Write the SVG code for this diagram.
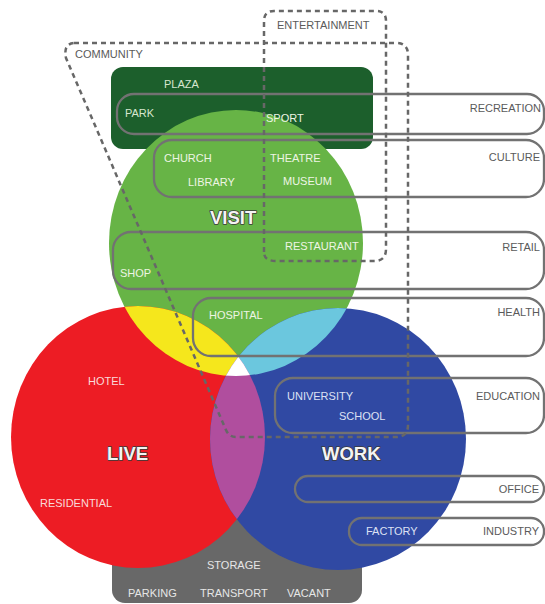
<svg xmlns="http://www.w3.org/2000/svg" width="545" height="604" viewBox="0 0 545 604">
<style>
text{font-family:"Liberation Sans",Arial,sans-serif;font-size:11px}
.gl{fill:#eef5e4}
.dg{fill:#d6e6cf}
.rl{fill:#f9dada}
.bl{fill:#dde1f4}
.gy{fill:#e6e6e6}
.side{fill:#5a5a5a}
.end{text-anchor:end}
.big{font-size:18.5px;font-weight:bold;fill:#f4f4f4;stroke:#3a3a3a;stroke-width:1.6px;paint-order:stroke;stroke-linejoin:round}
.pill{fill:none;stroke:#727272;stroke-width:2.3}
.dash{fill:none;stroke:#676767;stroke-width:2.5;stroke-dasharray:5 4}
</style>
<defs>
<clipPath id="cR"><ellipse cx="138" cy="437" rx="127" ry="131"/></clipPath>
<clipPath id="cB"><ellipse cx="338" cy="439" rx="128" ry="131"/></clipPath>
</defs>
<rect width="545" height="604" fill="#ffffff"/>
<g id="void">
<rect x="112" y="460" width="250" height="143" rx="13" fill="#686868"/>
</g>
<g id="plaza-block">
<rect x="111" y="67" width="262" height="82" rx="12" fill="#1c5f2c"/>
</g>
<g id="circles">
<ellipse id="visit-circle" cx="236" cy="243" rx="127" ry="133" fill="#67b446"/>
<ellipse id="live-circle" cx="138" cy="437" rx="127" ry="131" fill="#ed1c24"/>
<ellipse id="work-circle" cx="338" cy="439" rx="128" ry="131" fill="#3049a3"/>
<ellipse cx="236" cy="243" rx="127" ry="133" fill="#f5e71c" clip-path="url(#cR)"/>
<ellipse cx="236" cy="243" rx="127" ry="133" fill="#6bc7de" clip-path="url(#cB)"/>
<ellipse cx="138" cy="437" rx="127" ry="131" fill="#b04e9e" clip-path="url(#cB)"/>
<g clip-path="url(#cR)"><ellipse cx="236" cy="243" rx="127" ry="133" fill="#ffffff" clip-path="url(#cB)"/></g>
</g>
<g id="pills">
<rect id="recreation" class="pill" x="117" y="94" width="427" height="40" rx="17"/>
<rect id="culture" class="pill" x="154" y="140" width="390" height="57" rx="18"/>
<rect id="retail" class="pill" x="113" y="232" width="431" height="57" rx="18"/>
<rect id="health" class="pill" x="193" y="298" width="351" height="58" rx="18"/>
<rect id="education" class="pill" x="275" y="378" width="269" height="55" rx="18"/>
<rect id="office" class="pill" x="295" y="476" width="249" height="26" rx="13"/>
<rect id="industry" class="pill" x="349" y="518" width="195" height="27" rx="13"/>
</g>
<g id="dashed-groups">
<path id="entertainment" class="dash" d="M264,252 L264,21 Q264,11 274,11 L376,11 Q386,11 386,21 L386,249 Q386,261 374,261 L276,261 Q264,261 264,252"/>
<path id="community" class="dash" d="M74,43 L396,43 Q408,43 408,55 L408,425 Q408,437 396,437 L236,437 Q229,437 226,430 L66,58 Q63,44 74,43 Z"/>
</g>
<g id="labels">
<text x="277" y="29" class="side">ENTERTAINMENT</text>
<text x="75" y="58" class="side">COMMUNITY</text>
<text x="164" y="88" class="dg">PLAZA</text>
<text x="125" y="117" class="dg">PARK</text>
<text x="266" y="122" class="gl">SPORT</text>
<text x="541" y="112" class="side end">RECREATION</text>
<text x="164" y="162" class="gl">CHURCH</text>
<text x="270" y="162" class="gl">THEATRE</text>
<text x="188" y="186" class="gl">LIBRARY</text>
<text x="283" y="185" class="gl">MUSEUM</text>
<text x="540" y="161" class="side end">CULTURE</text>
<text x="210" y="224" class="big">VISIT</text>
<text x="285" y="250" class="gl">RESTAURANT</text>
<text x="540" y="251" class="side end">RETAIL</text>
<text x="120" y="277" class="gl">SHOP</text>
<text x="209" y="319" class="gl">HOSPITAL</text>
<text x="540" y="316" class="side end">HEALTH</text>
<text x="88" y="385" class="rl">HOTEL</text>
<text x="287" y="400" class="bl">UNIVERSITY</text>
<text x="339" y="420" class="bl">SCHOOL</text>
<text x="540" y="400" class="side end">EDUCATION</text>
<text x="107" y="460" class="big">LIVE</text>
<text x="322" y="460" class="big">WORK</text>
<text x="40" y="507" class="rl">RESIDENTIAL</text>
<text x="539" y="493" class="side end">OFFICE</text>
<text x="366" y="535" class="bl">FACTORY</text>
<text x="539" y="535" class="side end">INDUSTRY</text>
<text x="207" y="569" class="gy">STORAGE</text>
<text x="128" y="597" class="gy">PARKING</text>
<text x="200" y="597" class="gy">TRANSPORT</text>
<text x="287" y="597" class="gy">VACANT</text>
</g>
</svg>
